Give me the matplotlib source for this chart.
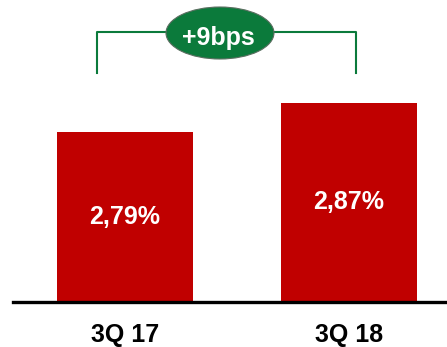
import matplotlib
matplotlib.use("Agg")
import matplotlib.pyplot as plt
from matplotlib.patches import Ellipse

plt.rcParams['font.family'] = ['Liberation Sans', 'DejaVu Sans']

quarters = ["3Q 17", "3Q 18"]
rates = [2.79, 2.87]
rate_labels = ["2,79%", "2,87%"]
change_label = "+9bps"

RED = "#c00000"
GREEN = "#0b7a3b"

fig = plt.figure(figsize=(4.47, 3.47), dpi=100)
ax = fig.add_axes([13 / 447, 45 / 347, 434 / 447, 302 / 347])

x = range(len(quarters))
bars = ax.bar(x, rates, width=0.607, color=RED, bottom=0)
ax.set_xlim(-0.5, 1.4375)
ax.set_ylim(2.32, 3.1536)

for bar, lbl in zip(bars, rate_labels):
    cy = (ax.get_ylim()[0] + bar.get_height()) / 2
    ax.text(bar.get_x() + bar.get_width() / 2, cy, lbl, color="white",
            fontsize=18, fontweight="bold", ha="center", va="center")

# bracket between the two quarters
bx0, bx1, btop, bbot = -0.125, 1.031, 3.064, 2.952
ax.plot([bx0, bx0, bx1, bx1], [bbot, btop, btop, bbot], color=GREEN,
        lw=1.5, clip_on=False, zorder=2)
ell = Ellipse((0.424, 3.0625), 0.482, 0.1435, facecolor=GREEN,
              edgecolor="#5a6e60", lw=0.8, clip_on=False, zorder=3)
ax.add_patch(ell)
ax.text(0.415, 3.048, change_label, color="white", fontsize=18,
        fontweight="bold", ha="center", va="center", zorder=4)

for side in ["top", "right", "left"]:
    ax.spines[side].set_visible(False)
ax.spines["bottom"].set_linewidth(2.4)
ax.spines["bottom"].set_color("black")
ax.set_yticks([])
ax.set_xticks(list(x))
ax.set_xticklabels(quarters, fontsize=18, fontweight="bold")
ax.tick_params(axis="x", length=0, pad=15)

fig.savefig("out.png", dpi=100)
